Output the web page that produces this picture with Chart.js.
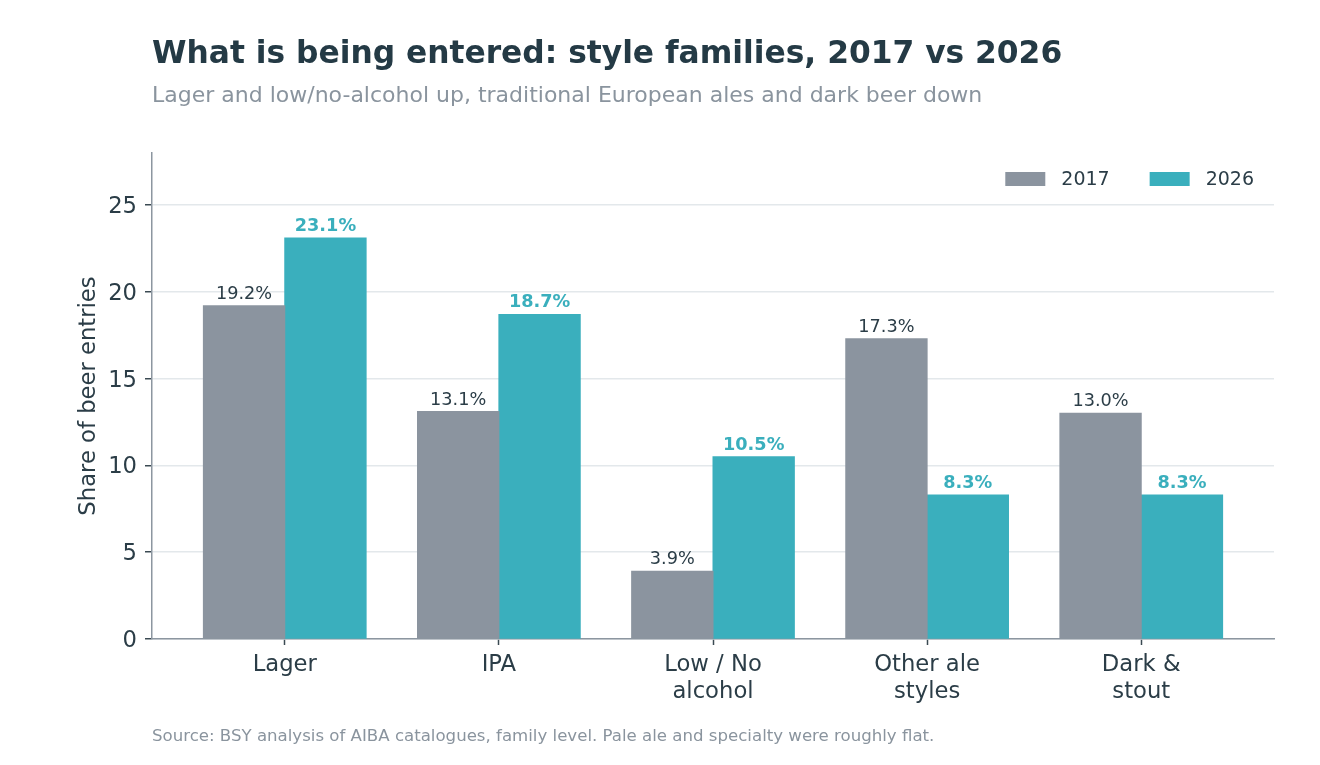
<!DOCTYPE html>
<html>
<head>
<meta charset="utf-8">
<script src="https://cdn.jsdelivr.net/npm/chart.js@4/dist/chart.umd.min.js"></script>
<style>
  html, body { margin: 0; padding: 0; background: #ffffff; }
  body { width: 1320px; height: 765px; position: relative; overflow: hidden; font-family: "DejaVu Sans", sans-serif; }
  #wrap { position: absolute; left: 0; top: 0; width: 1320px; height: 765px; }
  .txt { position: absolute; left: 152px; white-space: nowrap; line-height: 1; }
  #title { top: 37px; font-size: 31.3px; font-weight: bold; color: #243a45; }
  #subtitle { top: 84px; font-size: 22px; color: #8a949e; }
  #source { top: 728px; font-size: 16.6px; color: #8a949e; }
</style>
</head>
<body>
<div id="wrap"><canvas id="c" width="1320" height="765"></canvas></div>
<div class="txt" id="title">What is being entered: style families, 2017 vs 2026</div>
<div class="txt" id="subtitle">Lager and low/no-alcohol up, traditional European ales and dark beer down</div>
<div class="txt" id="source">Source: BSY analysis of AIBA catalogues, family level. Pale ale and specialty were roughly flat.</div>
<script>
const categories = [["Lager"], ["IPA"], ["Low / No", "alcohol"], ["Other ale", "styles"], ["Dark &", "stout"]];
const seriesNames = ["2017", "2026"];
const values2017 = [19.2, 13.1, 3.9, 17.3, 13.0];
const values2026 = [23.1, 18.7, 10.5, 8.3, 8.3];
const yTicks = [0, 5, 10, 15, 20, 25];

const GREY = "#8b949f";
const TEAL = "#3aafbd";
const DARK = "#2b3d47";

const valueLabels = {
  id: "valueLabels",
  afterDatasetsDraw(chart) {
    const ctx = chart.ctx;
    ctx.save();
    ctx.textAlign = "center";
    ctx.textBaseline = "alphabetic";
    chart.data.datasets.forEach((ds, di) => {
      const meta = chart.getDatasetMeta(di);
      meta.data.forEach((bar, i) => {
        const v = ds.data[i].y;
        if (di === 0) {
          ctx.font = "17.7px 'DejaVu Sans'";
          ctx.fillStyle = DARK;
        } else {
          ctx.font = "bold 17.7px 'DejaVu Sans'";
          ctx.fillStyle = TEAL;
        }
        ctx.fillText(v.toFixed(1) + "%", bar.x, bar.y - 7);
      });
    });
    ctx.restore();
  }
};

const customLegend = {
  id: "customLegend",
  afterDraw(chart) {
    const ctx = chart.ctx;
    const area = chart.chartArea;
    ctx.save();
    ctx.font = "19px 'DejaVu Sans'";
    ctx.textBaseline = "middle";
    ctx.textAlign = "left";
    const boxW = 40, boxH = 14, gap = 16, itemGap = 40;
    const items = chart.data.datasets.map(ds => ({ label: ds.label, color: ds.backgroundColor, w: ctx.measureText(ds.label).width }));
    let total = 0;
    items.forEach((it, i) => { total += boxW + gap + it.w + (i < items.length - 1 ? itemGap : 0); });
    let x = area.right - 20 - total;
    const cy = area.top + 26;
    items.forEach(it => {
      ctx.fillStyle = it.color;
      ctx.fillRect(x, cy - boxH / 2, boxW, boxH);
      ctx.fillStyle = DARK;
      ctx.fillText(it.label, x + boxW + gap, cy + 1);
      x += boxW + gap + it.w + itemGap;
    });
    ctx.restore();
  }
};

new Chart(document.getElementById("c"), {
  type: "bar",
  data: {
    datasets: [
      { label: seriesNames[0], data: values2017.map((v, i) => ({ x: i, y: v })), backgroundColor: GREY, borderWidth: 0, inflateAmount: 0.5 },
      { label: seriesNames[1], data: values2026.map((v, i) => ({ x: i, y: v })), backgroundColor: TEAL, borderWidth: 0, inflateAmount: 0.5 }
    ]
  },
  options: {
    responsive: false,
    animation: false,
    events: [],
    categoryPercentage: 0.76,
    barPercentage: 1.0,
    layout: { padding: { left: 0, right: 46, top: 153, bottom: 0 } },
    plugins: { legend: { display: false }, tooltip: { enabled: false }, title: { display: false } },
    scales: {
      x: {
        type: "linear",
        offset: false,
        min: -0.62,
        max: 4.62,
        afterBuildTicks(scale) { scale.ticks = categories.map((_, i) => ({ value: i })); },
        afterFit(scale) { scale.height = 126; },
        border: { display: true, color: "#8c96a0", width: 1.5 },
        grid: { display: true, offset: false, drawOnChartArea: false, drawTicks: true, tickLength: 6, tickColor: "#3b4a53", tickWidth: 1.5 },
        ticks: {
          autoSkip: false,
          maxRotation: 0,
          padding: 6,
          color: DARK,
          font: { family: "DejaVu Sans", size: 22.7, lineHeight: 1.2 },
          callback(value) { return categories[value] || ""; }
        }
      },
      y: {
        type: "linear",
        min: 0,
        max: 28,
        afterBuildTicks(scale) { scale.ticks = yTicks.map(v => ({ value: v })); },
        afterFit(scale) { scale.width = 152; },
        border: { display: true, color: "#8c96a0", width: 1.5 },
        grid: { color: "#e3e8eb", lineWidth: 1.5, drawTicks: true, tickLength: 7, tickColor: "#3b4a53", tickWidth: 1.5 },
        ticks: {
          padding: 8,
          labelOffset: 2,
          color: DARK,
          font: { family: "DejaVu Sans", size: 22.7 },
          callback(value) { return String(value); }
        },
        title: {
          display: true,
          text: "Share of beer entries",
          color: DARK,
          font: { family: "DejaVu Sans", size: 22.7, lineHeight: 1.2 },
          padding: { top: 75, bottom: 0 }
        }
      }
    }
  },
  plugins: [valueLabels, customLegend]
});
</script>
</body>
</html>
